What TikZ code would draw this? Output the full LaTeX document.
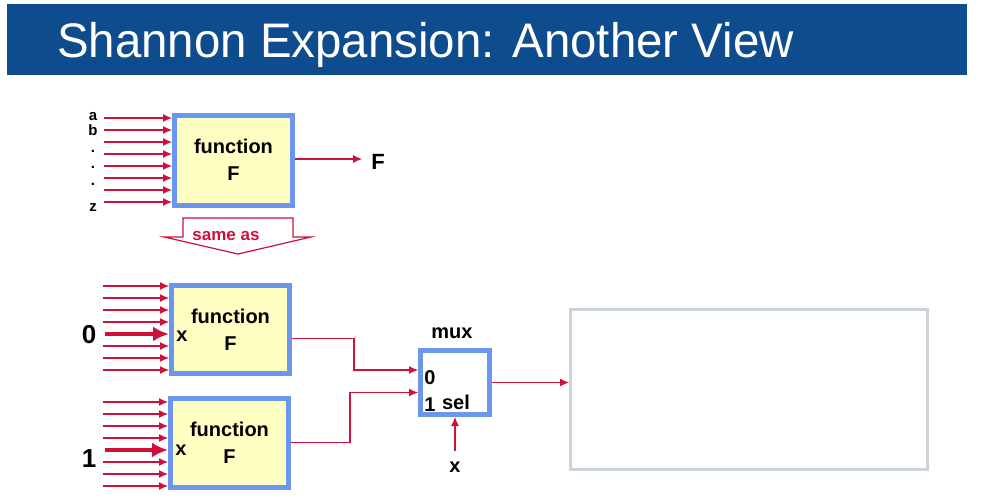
\documentclass[tikz,border=0pt]{standalone}
\usepackage{fontspec}
\setmainfont{Liberation Sans}
\usetikzlibrary{arrows.meta}
\definecolor{titleblue}{HTML}{0E4C8E}
\definecolor{boxblue}{HTML}{6B96EE}
\definecolor{boxfill}{HTML}{FFFFC4}
\definecolor{wirered}{HTML}{D0103A}
\definecolor{framegray}{HTML}{C9D5DD}
\begin{document}
\begin{tikzpicture}[x=1pt, y=-1pt,
    funbox/.style={draw=boxblue, line width=5pt, fill=boxfill, minimum width=118pt,
        minimum height=90pt, inner sep=0pt, align=center,
        font=\fontsize{20}{27}\selectfont\bfseries},
    wire/.style={draw=wirered, line width=1.1pt, -{Latex[length=9pt,width=8pt]}},
    bigwire/.style={draw=wirered, line width=4pt, -{Latex[length=16pt,width=15pt]}},
    lbl/.style={inner sep=0pt, font=\fontsize{20}{20}\selectfont\bfseries},
    pin/.style={inner sep=0pt, font=\fontsize{15}{15}\selectfont\bfseries}]
    \useasboundingbox (0,0) rectangle (992,499);

    % Title bar
    \fill[titleblue] (7,4) rectangle (967,75);
    \node[anchor=base west, inner sep=0pt, text=white,
        font=\fontsize{48.5}{50}\selectfont] (title) at (57,57.5) {\scalebox{0.978}[1]{Shannon Expansion: Another View}};

    % Original function block
    \node[funbox] (fa) at (233.5,160) {function\\F};
    \foreach \y [count=\i] in {118,130,142,154,166,178,190,202} {
        \coordinate (ta\i) at (104,\y);
        \draw[wire] (ta\i) -- (ta\i -| fa.west);
    }
    \node[pin] (la) at (93,117) {a};
    \node[pin] (lb) at (93,130) {b};
    \node[pin] (d1) at (93,151) {.};
    \node[pin] (d2) at (93,167) {.};
    \node[pin] (d3) at (93,184) {.};
    \node[pin] (lz) at (93,208) {z};
    \node[lbl, font=\fontsize{22}{22}\selectfont\bfseries] (fout) at (378,162) {F};
    \coordinate (faout) at ([yshift=1pt]fa.east);
    \coordinate (fend) at ([xshift=-9pt]fout.west);
    \draw[wire] (faout) -- (faout -| fend);

    % "same as" block arrow
    \draw[wirered, line width=1.2pt, fill=white] (183,218) -- (293,218) -- (293,237)
        -- (311,237) -- (238,254) -- (164,237) -- (183,237) -- cycle;
    \node[inner sep=0pt, text=wirered, font=\fontsize{17}{17}\selectfont\bfseries] (same) at (226,236) {same as};

    % Cofactor with x = 0
    \node[funbox, minimum height=88pt] (f0) at (230.5,329.5) {function\\F};
    \foreach \y [count=\i] in {286,298,310,322,346,358,370} {
        \coordinate (za\i) at (103,\y);
        \draw[wire] (za\i) -- (za\i -| f0.west);
    }
    \coordinate (zx) at (105,334);
    \draw[bigwire] (zx) -- (zx -| f0.west);
    \node[lbl, font=\fontsize{26}{26}\selectfont\bfseries] (zero) at (89,335) {0};
    \node[lbl] (x0) at (182,336) {x};

    % Cofactor with x = 1
    \node[funbox, minimum height=89pt] (f1) at (229.5,442.5) {function\\F};
    \foreach \y [count=\i] in {402,414,426,438,462,474,486} {
        \coordinate (oa\i) at (103,\y);
        \draw[wire] (oa\i) -- (oa\i -| f1.west);
    }
    \coordinate (ox) at (105,450);
    \draw[bigwire] (ox) -- (ox -| f1.west);
    \node[lbl, font=\fontsize{26}{26}\selectfont\bfseries] (one) at (89,459) {1};
    \node[lbl] (x1) at (181,450) {x};

    % Multiplexer
    \node[draw=boxblue, line width=5pt, fill=white, minimum width=69pt, minimum height=64pt,
        inner sep=0pt] (mux) at (455,382.5) {};
    \node[lbl] (muxlbl) at (452,333) {mux};
    \node[lbl] (m0) at (430,378) {0};
    \node[lbl] (m1) at (430,405) {1};
    \node[lbl] (sel) at (456,402) {sel};
    \node[lbl] (xs) at (455,467) {x};
    \draw[wire] ([yshift=-9pt]f0.east) -- ++(62,0) |- ([yshift=12.5pt]mux.west);
    \draw[wire] (f1.east) -- ++(59,0) |- ([yshift=-10pt]mux.west);
    \draw[wire] ([yshift=11pt]xs.north) -- (mux.south);

    % Empty frame
    \node[draw=framegray, line width=3pt, minimum width=357pt, minimum height=160pt,
        inner sep=0pt] (frame) at (749,389.5) {};
    \draw[wire] (mux.east) -- (mux.east -| frame.west);
\end{tikzpicture}
\end{document}
